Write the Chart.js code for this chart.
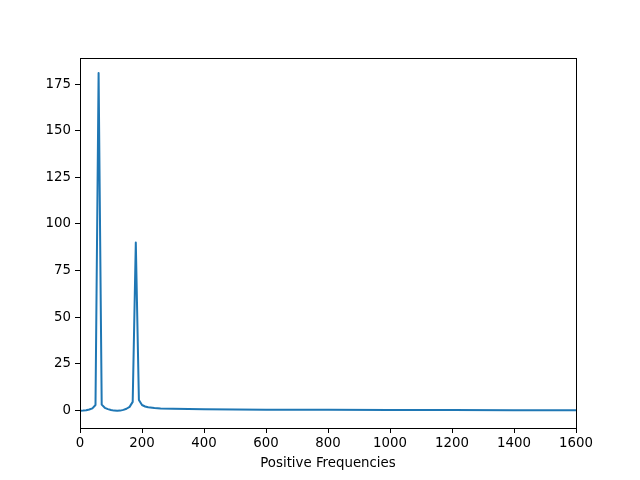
<!DOCTYPE html>
<html>
<head>
<meta charset="utf-8">
<script src="https://cdn.jsdelivr.net/npm/chart.js@4"></script>
<style>
  html, body { margin: 0; padding: 0; background: #fff; }
  canvas { display: block; }
</style>
</head>
<body>
<canvas id="grafico" width="640" height="480"></canvas>
<script>
'use strict';

// Frecuencias (Hz) y magnitudes
const frecuencias = [0, 10, 20, 30, 40, 50, 60, 70, 80, 90, 100, 110, 120, 130, 140, 150, 160, 170, 180, 190,
    200, 210, 220, 240, 260, 300, 400, 500, 600, 800, 1000, 1200, 1400, 1600];
const magnitudes = [-0.3, -0.2, 0.0, 0.4, 1.0, 2.8, 181, 3.0, 1.3, 0.6, 0.1, -0.2, -0.3, -0.2, 0.2, 0.8, 1.8, 4.5, 90, 5.5,
    2.8, 2.0, 1.6, 1.2, 1.0, 0.8, 0.5, 0.4, 0.3, 0.2, 0.15, 0.1, 0.05, 0.0];

const ticksY = [0, 25, 50, 75, 100, 125, 150, 175];
const ticksX = [0, 200, 400, 600, 800, 1000, 1200, 1400, 1600];

const fuente = { family: "'DejaVu Sans', sans-serif", size: 13.33 };

/**
 * Dibuja el marco completo alrededor del área del gráfico.
 */
const marco = {
    id: 'marco',
    afterDraw(chart) {
        const { ctx, chartArea: a } = chart;
        ctx.save();
        ctx.strokeStyle = '#000';
        ctx.lineWidth = 1;
        ctx.strokeRect(Math.round(a.left) + 0.5, Math.round(a.top) + 0.5,
            Math.round(a.right - a.left), Math.round(a.bottom - a.top));
        ctx.restore();
    }
};

const ctx = document.getElementById('grafico').getContext('2d');

new Chart(ctx, {
    type: 'line',
    data: {
        datasets: [{
            data: frecuencias.map((f, i) => ({ x: f, y: magnitudes[i] })),
            borderColor: '#1f77b4',
            borderWidth: 2,
            borderJoinStyle: 'round',
            borderCapStyle: 'round',
            pointRadius: 0,
            tension: 0,
            fill: false
        }]
    },
    options: {
        responsive: false,
        animation: false,
        layout: { padding: { left: 0, top: 58, right: 64, bottom: 4 } },
        plugins: { legend: { display: false }, tooltip: { enabled: false } },
        scales: {
            x: {
                type: 'linear',
                min: 0,
                max: 1600,
                afterFit: s => { s.height = 48; },
                afterBuildTicks: s => { s.ticks = ticksX.map(v => ({ value: v })); },
                grid: { drawOnChartArea: false, drawTicks: true, tickLength: 5, color: '#000' },
                border: { display: true, color: '#000' },
                ticks: { color: '#000', font: fuente, padding: 3, maxRotation: 0, callback: v => String(v) },
                title: { display: true, text: 'Positive Frequencies', color: '#000', font: fuente, padding: { top: 2, bottom: 4 } }
            },
            y: {
                min: -9.53,
                max: 189.03,
                afterFit: s => { s.width = 80; },
                afterBuildTicks: s => { s.ticks = ticksY.map(v => ({ value: v })); },
                grid: { drawOnChartArea: false, drawTicks: true, tickLength: 5, color: '#000' },
                border: { display: true, color: '#000' },
                ticks: { color: '#000', font: fuente, padding: 4, callback: v => String(v) }
            }
        }
    },
    plugins: [marco]
});
</script>
</body>
</html>
